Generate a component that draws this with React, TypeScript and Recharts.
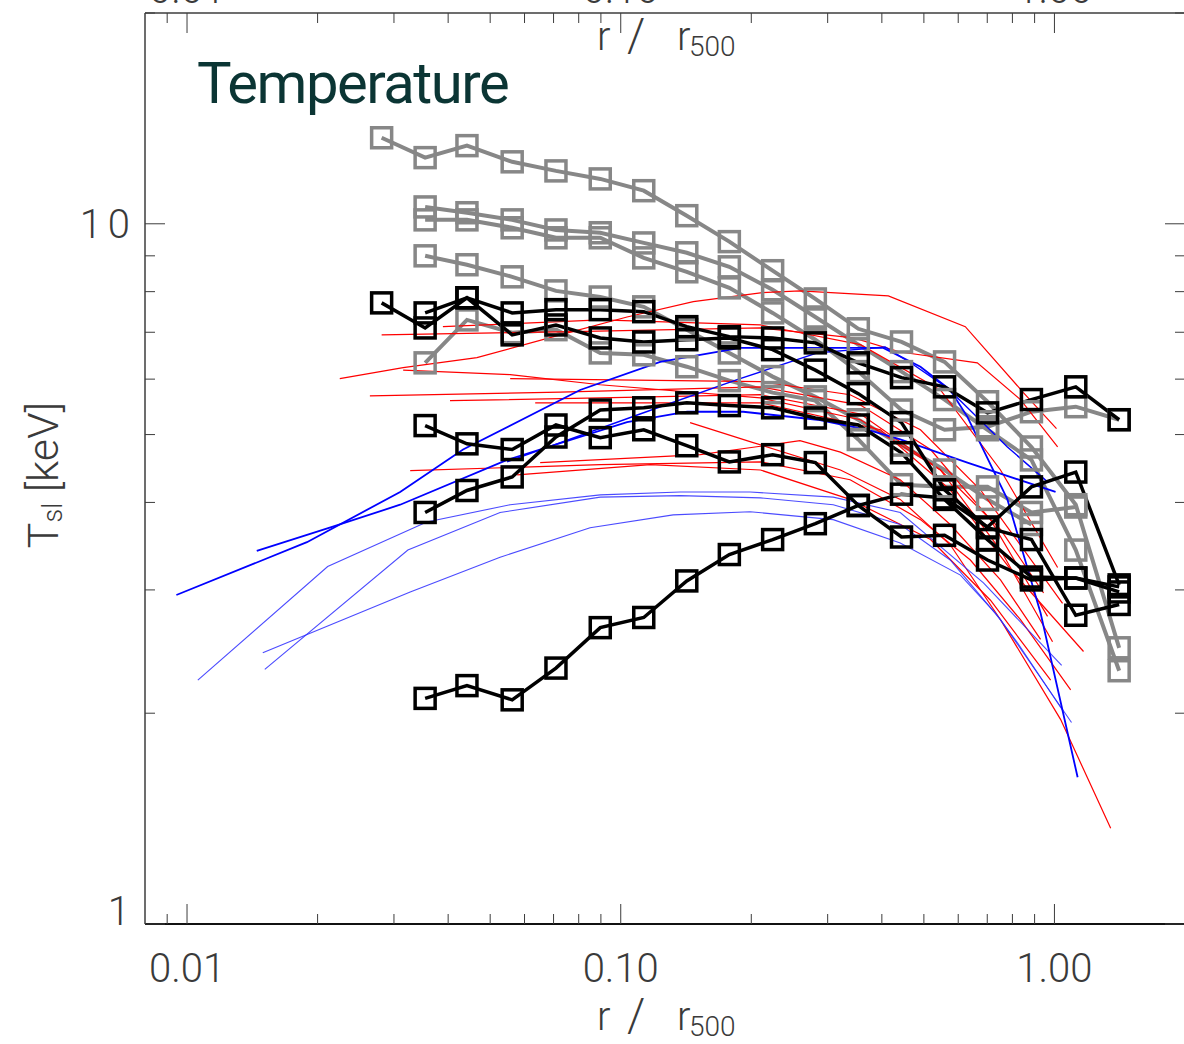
import React from 'react';
import { LineChart, Line, XAxis, YAxis } from 'recharts';

// radial bins shared by the binned profiles (r / r500)
const radiusBins = [0.0281, 0.0354, 0.0442, 0.0562, 0.0709, 0.0897, 0.113, 0.142, 0.178, 0.224, 0.281, 0.353, 0.444, 0.558, 0.701, 0.885, 1.12, 1.41];

// binned T_sl profiles [keV], one value per bin, null where the profile has no bin
const grayA = [13.27, 12.43, 12.93, 12.26, 11.9, 11.59, 11.15, 10.27, 9.43, 8.57, 7.81, 7.08, 6.78, 6.35, 5.57, 4.8, 3.97, 2.48];
const grayB = [null, 10.57, 10.37, 10.13, 9.8, 9.71, 9.39, 9.09, 8.68, 8.05, 7.36, 6.72, 6.15, 5.61, 5.08, 4.6, 3.42, 2.3];
const grayC = [null, 10.13, 10.13, 9.87, 9.55, 9.55, 8.94, 8.54, 8.1, 7.46, 6.83, 6.15, 5.42, 5.08, 5.13, 5.39, 5.48, 5.25];
const grayD = [null, 9.0, 8.74, 8.4, 8.02, 7.86, 7.61, 7.06, 6.54, 6.05, 5.66, 5.25, 4.83, 4.45, 4.04, 3.72, null, null];
const grayE = [null, 6.33, 7.29, 6.99, 7.06, 6.54, 6.5, 6.25, 5.97, 5.74, 5.59, 4.92, 4.24, 4.21, 4.21, 3.87, 3.94, null];

const blackA = [7.71, 7.1, 7.84, 6.94, 7.17, 6.87, 6.78, 6.83, 6.87, 6.61, 6.18, 5.72, 5.2, 4.17, 3.68, 3.54, 2.76, 2.86];
const blackB = [null, 7.46, 7.84, 7.46, 7.54, 7.54, 7.49, 7.13, 6.9, 6.87, 6.76, 6.33, 6.03, 5.85, 5.37, 5.61, 5.85, 5.25];
const blackC = [null, 5.15, 4.85, 4.76, 5.16, 4.95, 5.08, 4.82, 4.57, 4.68, 4.56, 3.96, 3.57, 3.59, 3.31, 3.1, 3.12, 3.03];
const blackD = [null, 3.87, 4.16, 4.35, 4.96, 5.42, 5.46, 5.55, 5.5, 5.46, 5.28, 5.16, 4.71, 4.04, 3.54, 3.13, 3.12, 2.98];
const blackE = [null, 2.1, 2.19, 2.09, 2.32, 2.65, 2.74, 3.09, 3.37, 3.54, 3.73, 3.96, 4.11, 4.06, 3.69, 4.21, 4.42, 3.05];

// simulated profiles, [r / r500, T_sl]
const red1 = [[0.0225, 6.01], [0.0315, 6.23], [0.0466, 6.44], [0.0725, 6.94], [0.1034, 7.36], [0.147, 7.74], [0.21, 7.97], [0.259, 8.02], [0.414, 7.89], [0.623, 7.13], [0.848, 5.74], [1.011, 5.1]];
const red2 = [[0.0281, 6.94], [0.0725, 7.01], [0.21, 7.1], [0.344, 6.87], [0.441, 6.56], [0.664, 6.33], [0.835, 5.61], [1.017, 4.8]];
const red3 = [[0.0389, 7.13], [0.0897, 7.29], [0.21, 7.17], [0.357, 6.72], [0.546, 5.79], [0.751, 4.45], [1.017, 3.23]];
const red4 = [[0.0315, 6.18], [0.0556, 6.09], [0.0897, 5.89], [0.21, 5.64], [0.357, 5.25], [0.546, 4.45], [0.751, 3.66], [0.944, 2.97]];
const red5 = [[0.0556, 6.01], [0.21, 5.95], [0.338, 5.7], [0.491, 5.08], [0.675, 4.17], [1.044, 2.87]];
const red6 = [[0.0264, 5.68], [0.0725, 5.75], [0.21, 5.85], [0.357, 5.51], [0.518, 4.76], [0.712, 3.78], [0.964, 2.75]];
const red7 = [[0.0404, 5.59], [0.0897, 5.64], [0.21, 5.7], [0.357, 5.35], [0.546, 4.45], [0.751, 3.42], [0.99, 2.53]];
const red8 = [[0.0635, 5.55], [0.21, 5.55], [0.397, 5.08], [0.575, 4.17], [0.792, 3.21], [1.167, 2.45]];
const red9 = [[0.1445, 5.2], [0.202, 4.87], [0.321, 4.45], [0.441, 4.04], [0.575, 3.48], [0.751, 2.72], [1.033, 1.96], [1.348, 1.37]];
const red10 = [[0.0652, 4.56], [0.1525, 4.68], [0.259, 4.9], [0.321, 4.72], [0.441, 4.31], [0.575, 3.72], [0.751, 3.1], [0.929, 2.55]];
const red11 = [[0.0327, 4.44], [0.0897, 4.53], [0.21, 4.57], [0.338, 4.31], [0.491, 3.78], [0.64, 3.31], [0.835, 2.72], [1.09, 2.16]];
const red12 = [[0.0577, 4.38], [0.117, 4.53], [0.21, 4.45], [0.338, 4.04], [0.518, 3.54], [0.712, 2.9], [0.98, 2.23]];

const blue1 = [[0.00945, 2.95], [0.0189, 3.51], [0.031, 4.14], [0.0433, 4.76], [0.0806, 5.79], [0.1233, 6.35], [0.1885, 6.65], [0.403, 6.65], [0.491, 6.25], [0.575, 5.79], [0.63, 5.3], [0.779, 4.04], [0.929, 2.78], [1.131, 1.62]];
const blue2 = [[0.01448, 3.41], [0.0216, 3.69], [0.031, 3.97], [0.0547, 4.6], [0.1034, 5.21], [0.1423, 5.39], [0.1916, 5.39], [0.284, 5.25], [0.37, 5.08], [0.441, 4.92], [0.63, 4.56], [1.006, 4.14]];
const blue3 = [[0.0547, 4.57], [0.1108, 5.35], [0.1855, 5.99], [0.284, 6.54], [0.407, 6.67], [0.473, 6.29], [0.566, 5.83], [0.779, 4.8], [0.964, 4.28]];
const blueThin1 = [[0.01059, 2.23], [0.0211, 3.24], [0.0357, 3.75], [0.0556, 3.97], [0.0897, 4.1], [0.1371, 4.14], [0.1988, 4.14], [0.309, 4.07], [0.441, 3.87], [0.686, 3.07], [1.039, 2.34]];
const blueThin2 = [[0.01511, 2.31], [0.0323, 3.42], [0.0527, 3.87], [0.0897, 4.07], [0.1371, 4.09], [0.21, 4.06], [0.309, 3.97], [0.441, 3.72], [0.575, 3.31], [0.751, 2.72], [1.095, 1.94]];
const blueThin3 = [[0.01495, 2.44], [0.0327, 2.98], [0.0527, 3.34], [0.085, 3.68], [0.1321, 3.84], [0.1988, 3.88], [0.309, 3.78], [0.441, 3.5], [0.607, 3.15], [0.731, 2.78], [0.822, 2.52], [1.044, 2.02]];

// axis ticks and labels
const xMajor = [0.01, 0.1, 1];
const xMinor = [0.009, 0.02, 0.03, 0.04, 0.05, 0.06, 0.07, 0.08, 0.09, 0.2, 0.3, 0.4, 0.5, 0.6, 0.7, 0.8, 0.9, 2];
const xLabels = ['0.01', '0.10', '1.00'];
const yMajor = [1, 10];
const yMinor = [2, 3, 4, 5, 6, 7, 8, 9, 20];
const yLabels = ['1', '10'];

const xTicks = [...xMajor, ...xMinor].sort((a, b) => a - b);
const yTicks = [...yMajor, ...yMinor].sort((a, b) => a - b);

const grayProfiles = [grayA, grayB, grayC, grayD, grayE];
const blackProfiles = [blackA, blackB, blackC, blackD, blackE];
const redProfiles = [red1, red2, red3, red4, red5, red6, red7, red8, red9, red10, red11, red12];
const blueThick = [blue1, blue2, blue3];
const blueThin = [blueThin1, blueThin2, blueThin3];

const PLOT = { left: 145, top: 13, right: 1185, bottom: 924 };
const FONT = "Roboto, 'Liberation Sans', sans-serif";
const LABEL_COLOR = '#3a3a3a';
const TICK_COLOR = '#3c3c3c';

const binned = (temps: (number | null)[]) =>
  radiusBins.map((r, i) => ({ r, t: temps[i] })).filter((d) => d.t !== null);
const pairs = (pts: number[][]) => pts.map(([r, t]) => ({ r, t }));

const squareDot = (color: string) => (p: any) => {
  if (p.cx == null || p.cy == null) return <g key={`e-${p.index}`} />;
  return (
    <rect key={`sq-${p.index}`} x={p.cx - 10} y={p.cy - 10} width={20} height={20}
      fill="none" stroke={color} strokeWidth={3.5} />
  );
};

const labelStyle = { fontSize: 40, fontFamily: FONT, fontWeight: 300, fill: LABEL_COLOR };

// inward tick marks: 20px at decades, 10px elsewhere
const BottomTick = (props: any) => {
  const i = xMajor.indexOf(props.payload.value);
  const len = i >= 0 ? 20 : 10;
  return (
    <g>
      <line x1={props.x} x2={props.x} y1={PLOT.bottom} y2={PLOT.bottom - len} stroke={TICK_COLOR} strokeWidth={1} />
      {i >= 0 && <text x={props.x} y={982} textAnchor="middle" {...labelStyle}>{xLabels[i]}</text>}
    </g>
  );
};

// top labels sit above the frame and are mostly cut off by the page edge
const TopTick = (props: any) => {
  const i = xMajor.indexOf(props.payload.value);
  const len = i >= 0 ? 20 : 10;
  return (
    <g>
      <line x1={props.x} x2={props.x} y1={PLOT.top} y2={PLOT.top + len} stroke={TICK_COLOR} strokeWidth={1} />
      {i >= 0 && <text x={props.x} y={3} textAnchor="middle" {...labelStyle}>{xLabels[i]}</text>}
    </g>
  );
};

const LeftTick = (props: any) => {
  const i = yMajor.indexOf(props.payload.value);
  const len = i >= 0 ? 20 : 10;
  const base = Math.min(props.y + 14, PLOT.bottom + 1);
  return (
    <g>
      <line x1={PLOT.left} x2={PLOT.left + len} y1={props.y} y2={props.y} stroke={TICK_COLOR} strokeWidth={1} />
      {i >= 0 && (
        <text x={i === 1 ? 136 : 130} y={base} textAnchor="end" letterSpacing={i === 1 ? 6 : 0} {...labelStyle}>
          {yLabels[i]}
        </text>
      )}
    </g>
  );
};

const RightTick = (props: any) => {
  const len = yMajor.includes(props.payload.value) ? 20 : 10;
  return <line x1={PLOT.right} x2={PLOT.right - len} y1={props.y} y2={props.y} stroke={TICK_COLOR} strokeWidth={1} />;
};

const frame = { stroke: '#3c3c3c', strokeWidth: 1.5 };

function AxisTitle({ x, y }: { x: number; y: number }) {
  return (
    <g fontFamily={FONT} fontWeight={300} fill={LABEL_COLOR}>
      <text x={x} y={y} fontSize={40}>r</text>
      <text x={x + 30} y={y + 1} fontSize={46}>/</text>
      <text x={x + 80} y={y} fontSize={40}>r</text>
      <text x={x + 92} y={y + 6} fontSize={28}>500</text>
    </g>
  );
}

export default function App() {
  return (
    <div style={{ position: 'absolute', left: 0, top: 0, width: 1184, height: 1044, overflow: 'hidden', background: '#fff' }}>
      <LineChart width={1186} height={1044} margin={{ top: PLOT.top, right: 1, bottom: 1044 - PLOT.bottom, left: PLOT.left }}>
        <XAxis xAxisId="x" dataKey="r" type="number" scale="log" domain={[0.008, 2]} allowDataOverflow height={1} mirror
          interval={0} ticks={xTicks} tickLine={false} axisLine={{ stroke: '#111', strokeWidth: 2 }} tick={BottomTick} />
        <XAxis xAxisId="xt" dataKey="r" orientation="top" type="number" scale="log" domain={[0.008, 2]} allowDataOverflow height={1} mirror
          interval={0} ticks={xTicks} tickLine={false} axisLine={frame} tick={TopTick} />
        <YAxis yAxisId="y" type="number" scale="log" domain={[1, 20]} allowDataOverflow width={1} mirror
          interval={0} ticks={yTicks} tickLine={false} axisLine={frame} tick={LeftTick} />
        <YAxis yAxisId="yr" orientation="right" type="number" scale="log" domain={[1, 20]} allowDataOverflow width={1} mirror
          interval={0} ticks={yTicks} tickLine={false} axisLine={frame} tick={RightTick} />

        {grayProfiles.map((p, i) => (
          <Line key={`g${i}`} xAxisId="x" yAxisId="y" data={binned(p)} dataKey="t" type="linear"
            stroke="#878787" strokeWidth={4} dot={squareDot('#878787')} activeDot={false} isAnimationActive={false} />
        ))}
        {redProfiles.map((p, i) => (
          <Line key={`r${i}`} xAxisId="xt" yAxisId="y" data={pairs(p)} dataKey="t" type="linear"
            stroke="#ff0000" strokeWidth={1.2} dot={false} activeDot={false} isAnimationActive={false} />
        ))}
        {blueThin.map((p, i) => (
          <Line key={`bt${i}`} xAxisId="xt" yAxisId="y" data={pairs(p)} dataKey="t" type="linear"
            stroke="#2b2bff" strokeOpacity={0.85} strokeWidth={1.1} dot={false} activeDot={false} isAnimationActive={false} />
        ))}
        {blueThick.map((p, i) => (
          <Line key={`b${i}`} xAxisId="xt" yAxisId="y" data={pairs(p)} dataKey="t" type="linear"
            stroke="#0000ff" strokeWidth={i === 2 ? 1.4 : 1.8} dot={false} activeDot={false} isAnimationActive={false} />
        ))}
        {blackProfiles.map((p, i) => (
          <Line key={`k${i}`} xAxisId="x" yAxisId="y" data={binned(p)} dataKey="t" type="linear"
            stroke="#000" strokeWidth={3.5} dot={squareDot('#000')} activeDot={false} isAnimationActive={false} />
        ))}
      </LineChart>

      <svg width={1184} height={1044} style={{ position: 'absolute', left: 0, top: 0, pointerEvents: 'none' }}>
        <text x={197} y={103} fontSize={58} fontFamily={FONT} fill="#0b3534" letterSpacing={-1.5}>Temperature</text>
        <AxisTitle x={597} y={50} />
        <AxisTitle x={597} y={1030} />
        <text transform="rotate(-90, 58, 475)" x={58} y={475} textAnchor="middle" fontSize={43} fontFamily={FONT} fontWeight={300} fill={LABEL_COLOR}>
          <tspan>T</tspan>
          <tspan fontSize={27} dy={4}>sl</tspan>
          <tspan dy={-4}> [keV]</tspan>
        </text>
      </svg>
    </div>
  );
}
